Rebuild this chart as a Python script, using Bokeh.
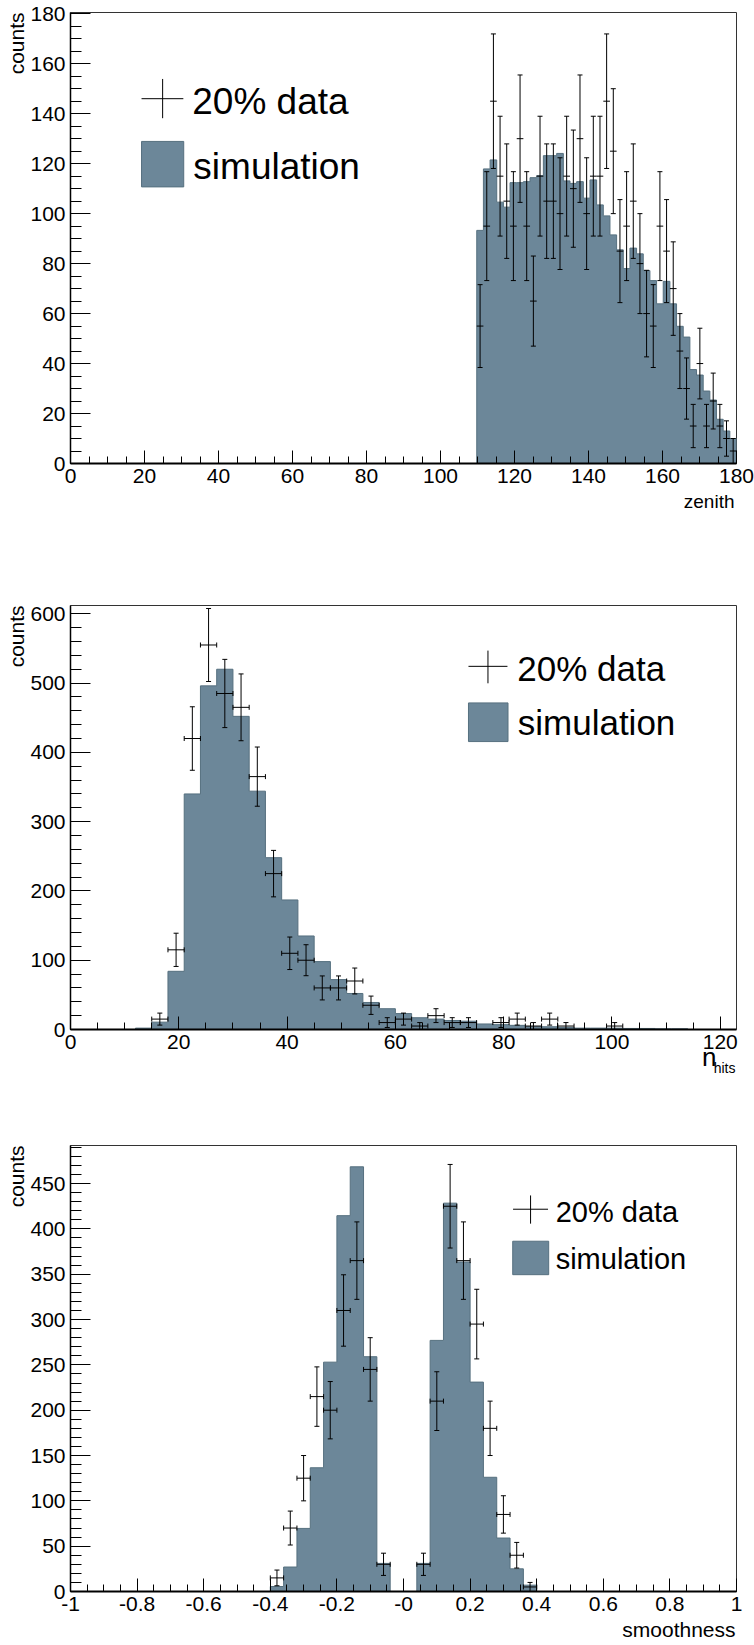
import numpy as np
from bokeh.plotting import figure
from bokeh.layouts import column
from bokeh.models import Range1d, SingleIntervalTicker, FixedTicker, Label, Title
from bokeh.embed import file_html
from bokeh.resources import INLINE

FONT = "Liberation Sans"
SIM_FILL = "#6c8799"
SIM_LINE = "#56707f"

# ---------------- data ----------------
# zenith: 39 bins of 1.8 deg starting at 109.8
zen_start = 109.8
zen_width = 1.8
zen_sim = [93.3, 117.9, 121.5, 104.6, 102.6, 112.4, 112.4, 112.8, 114.4, 115.2,
           123.2, 123.2, 124.1, 113.1, 112.1, 112.8, 106.2, 113.5, 103.5, 99.1,
           91.5, 85.5, 78.0, 86.2, 83.9, 77.2, 73.2, 63.9, 72.9, 63.9,
           54.9, 50.6, 37.6, 35.4, 29.0, 25.4, 17.7, 13.0, 10.0]
zen_data = [55, 95, 145, 115, 105, 95, 130, 95, 65, 115,
            105, 105, 100, 115, 110, 130, 100, 115, 115, 145,
            125, 85, 95, 105, 80, 60, 55, 95, 85, 70,
            45, 30, 15, 40, 15, 25, 15, 10, 5]

# n_hits: 41 bins of width 3 from 0 to 123
nh_start = 0.0
nh_width = 3.0
nh_sim = [0, 0, 0, 0, 2, 10.6, 84, 340, 496, 520,
          452, 344, 248, 187, 135, 98, 72, 52, 39, 30,
          23, 17, 15, 13, 12, 8, 7, 6, 4, 4,
          3, 2, 2, 2, 1.5, 1.5, 1, 1, 0, 0, 0]
nh_data = [0, 0, 0, 0, 0, 15, 115, 420, 555, 485,
           465, 365, 225, 110, 100, 60, 60, 70, 35, 10,
           15, 5, 20, 10, 10, 0, 10, 15, 5, 15,
           5, 0, 0, 5, 0, 0, 0, 0, 0, 0, 0]

# smoothness: 50 bins of width 0.04 from -1 to 1
sm_start = -1.0
sm_width = 0.04
sm_sim = [0] * 15 + [5.5, 27, 69.6, 136.5, 253, 414.6, 468.5, 259, 31, 0,
                     0, 31, 277, 428.4, 363.5, 231, 126, 59, 25, 7] + [0] * 15
sm_data = [0] * 15 + [15, 70, 125, 215, 200, 310, 365, 245, 30, 0,
                      0, 30, 210, 425, 365, 295, 180, 85, 40, 5] + [0] * 15

sm_ticks = [-1.0, -0.8, -0.6, -0.4, -0.2, 0.0, 0.2, 0.4, 0.6, 0.8, 1.0]
sm_tick_labels = ["-1", "-0.8", "-0.6", "-0.4", "-0.2", "-0", "0.2", "0.4", "0.6", "0.8", "1"]
sm_minor = [round(-1 + 0.05 * i, 2) for i in range(41)]


# ---------------- helpers ----------------
def make_fig(height, top, bottom, xr, yr):
    p = figure(width=754, height=height, x_range=Range1d(*xr), y_range=Range1d(*yr),
               output_backend="svg", toolbar_location=None,
               min_border_left=70, min_border_right=18,
               min_border_top=top, min_border_bottom=bottom)
    p.xgrid.visible = False
    p.ygrid.visible = False
    p.outline_line_color = "#333333"
    p.outline_line_width = 1
    p.background_fill_color = "white"
    p.border_fill_color = "white"
    for ax in (p.xaxis[0], p.yaxis[0]):
        ax.axis_line_color = "black"
        ax.major_tick_line_color = "black"
        ax.minor_tick_line_color = "black"
        ax.major_tick_out = 0
        ax.minor_tick_out = 0
        ax.major_label_text_font = FONT
        ax.major_label_text_font_size = "21px"
        ax.major_label_text_color = "black"
        ax.major_label_standoff = 5
    p.xaxis.axis_line_width = 2
    p.yaxis.axis_line_width = 1.5
    p.xaxis.major_tick_in = 13
    p.xaxis.minor_tick_in = 7
    p.yaxis.major_tick_in = 20
    p.yaxis.minor_tick_in = 11
    return p


def draw_hist(p, start, width, vals):
    n = len(vals)
    edges = start + width * np.arange(n + 1)
    v = np.array(vals, dtype=float)
    xs = [edges[0]]
    ys = [0.0]
    for i in range(n):
        xs += [edges[i], edges[i + 1]]
        ys += [v[i], v[i]]
    xs.append(edges[-1])
    ys.append(0.0)
    p.patch(xs, ys, fill_color=SIM_FILL, line_color=None)
    p.line(xs, ys, line_color=SIM_LINE, line_width=1)


def draw_data(p, start, width, vals, hcaps=True):
    n = len(vals)
    c = start + width * (np.arange(n) + 0.5)
    v = np.array(vals, dtype=float)
    m = v > 0
    c, v = c[m], v[m]
    e = np.sqrt(5 * v)
    half = width / 2
    p.segment(c, v - e, c, v + e, line_color="black", line_width=1)
    p.segment(c - half, v, c + half, v, line_color="black", line_width=1)
    p.scatter(np.r_[c, c], np.r_[v - e, v + e], marker="dash", size=5,
              line_color="black", line_width=1)
    if hcaps:
        p.scatter(np.r_[c - half, c + half], np.r_[v, v], marker="dash", size=5,
                  angle=np.pi / 2, line_color="black", line_width=1)


def legend(p, cross_x, cross_y, cross_v, box, t1, t2, fs):
    p.segment([cross_x[0]], [cross_y], [cross_x[1]], [cross_y], line_color="black", line_width=1)
    xm = cross_x[2]
    p.segment([xm], [cross_v[0]], [xm], [cross_v[1]], line_color="black", line_width=1)
    p.quad(left=[box[0]], right=[box[1]], bottom=[box[2]], top=[box[3]],
           fill_color=SIM_FILL, line_color=SIM_LINE, line_width=1)
    p.add_layout(Label(x=t1[0], y=t1[1], text="20% data", text_font=FONT,
                       text_font_size=fs, text_baseline="middle", text_color="black"))
    p.add_layout(Label(x=t2[0], y=t2[1], text="simulation", text_font=FONT,
                       text_font_size=fs, text_baseline="middle", text_color="black"))


def make_title(text, size, align, valign, standoff, offset):
    kw = dict(text=text, align=align, vertical_align=valign, offset=offset,
              text_font=FONT, text_font_size=size, text_font_style="normal",
              text_color="black")
    try:
        return Title(standoff=standoff, **kw)
    except Exception:
        return Title(standoff=0, **kw)


def counts_title(p):
    p.add_layout(make_title("counts", "21px", "right", "bottom", 0, 0), "left")


# ---------------- top: zenith ----------------
p1 = make_fig(540, 12, 77, (0, 180), (0, 180.5))
p1.xaxis.ticker = SingleIntervalTicker(interval=20, num_minor_ticks=4)
p1.yaxis.ticker = SingleIntervalTicker(interval=20, num_minor_ticks=4)
draw_hist(p1, zen_start, zen_width, zen_sim)
draw_data(p1, zen_start, zen_width, zen_data, hcaps=False)
legend(p1, (19.2, 30.5, 24.9), 146.0, (138.2, 153.9), (19.2, 30.6, 110.7, 128.9),
       (32.9, 145.0), (33.2, 118.7), "37px")
counts_title(p1)
p1.add_layout(make_title("zenith", "19px", "right", "top", 10, 2), "below")

# ---------------- middle: n_hits ----------------
p2 = make_fig(549, 65, 60, (0, 123), (0, 612))
p2.xaxis.ticker = SingleIntervalTicker(interval=20, num_minor_ticks=4)
p2.yaxis.ticker = SingleIntervalTicker(interval=100, num_minor_ticks=5)
draw_hist(p2, nh_start, nh_width, nh_sim)
draw_data(p2, nh_start, nh_width, nh_data)
legend(p2, (73.5, 80.7, 77.1), 524.2, (499.7, 546.9), (73.5, 80.8, 415.6, 471.4),
       (82.5, 520.5), (82.6, 443.0), "35px")
counts_title(p2)
p2.add_layout(make_title("n", "26px", "right", "top", -20, 20), "below")
p2.add_layout(make_title("hits", "14px", "right", "top", -7, 1), "below")

# ---------------- bottom: smoothness ----------------
p3 = make_fig(556, 56, 54, (-1, 1), (0, 492))
p3.xaxis.ticker = FixedTicker(ticks=sm_ticks, minor_ticks=sm_minor)
p3.xaxis.major_label_overrides = dict(zip(sm_ticks, sm_tick_labels))
p3.yaxis.ticker = SingleIntervalTicker(interval=50, num_minor_ticks=5)
draw_hist(p3, sm_start, sm_width, sm_sim)
draw_data(p3, sm_start, sm_width, sm_data)
legend(p3, (0.329, 0.434, 0.3816), 421.7, (405.8, 436.9), (0.328, 0.436, 349.5, 386.4),
       (0.457, 418.8), (0.457, 366.6), "29px")
counts_title(p3)
p3.add_layout(make_title("smoothness", "21px", "right", "bottom", 4, 1), "below")

layout = column(p1, p2, p3, spacing=0)
open("out.html", "w").write(file_html(layout, INLINE))
